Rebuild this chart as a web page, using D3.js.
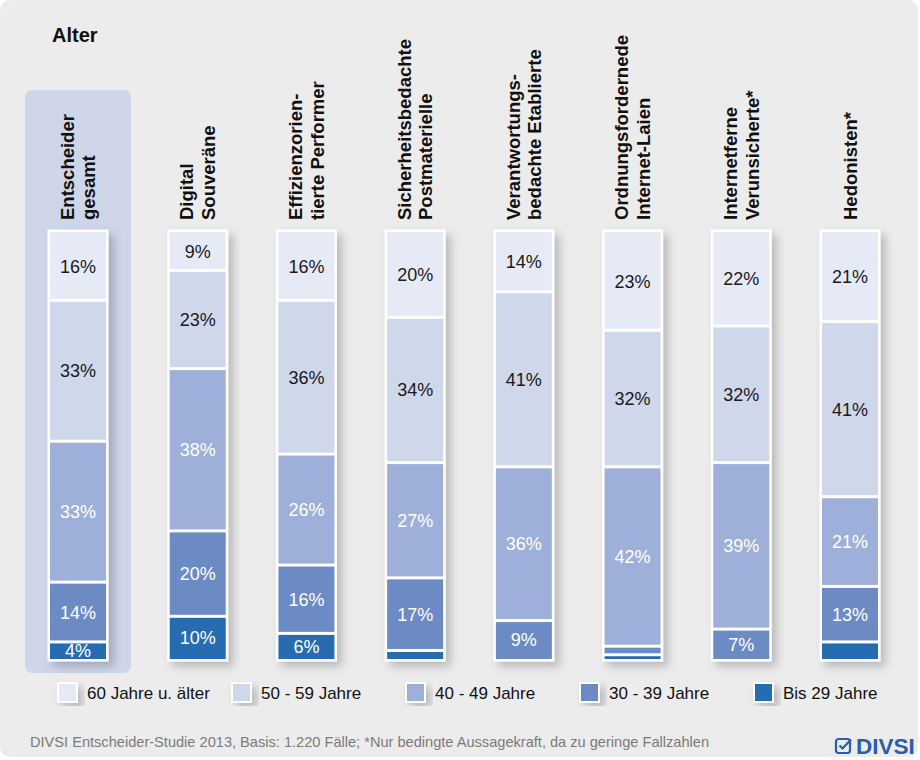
<!DOCTYPE html>
<html>
<head>
<meta charset="utf-8">
<script src="https://cdn.jsdelivr.net/npm/d3@7"></script>
<style>
  html, body { margin: 0; padding: 0; background: #fff; }
  svg { display: block; font-family: "Liberation Sans", Arial, sans-serif; }
</style>
</head>
<body>
<svg id="chart" width="920" height="760"></svg>
<script>
// Kategorien (Zeilenumbruch mit "|")
const categories = [
    "Entscheider|gesamt",
    "Digital|Souveräne",
    "Effizienzorien-|tierte Performer",
    "Sicherheitsbedachte|Postmaterielle",
    "Verantwortungs-|bedachte Etablierte",
    "Ordnungsfordernede|Internet-Laien",
    "Internetferne|Verunsicherte*",
    "Hedonisten*"
];

// Altersgruppen, von oben nach unten gestapelt
const ageGroups = ["60 Jahre u. älter", "50 - 59 Jahre", "40 - 49 Jahre", "30 - 39 Jahre", "Bis 29 Jahre"];

const age60plus = [16, 9, 16, 20, 14, 23, 22, 21];
const age50to59 = [33, 23, 36, 34, 41, 32, 32, 41];
const age40to49 = [33, 38, 26, 27, 36, 42, 39, 21];
const age30to39 = [14, 20, 16, 17, 9, 2, 7, 13];
const ageTo29 = [4, 10, 6, 2, 0, 1, 0, 4];

// Segmente ohne Beschriftung
const hiddenLabels = [["Hedonisten*", "Bis 29 Jahre"]];

const colors = ["#e6eaf6", "#cfd7eb", "#9eafd9", "#6c8bc4", "#276cb0"];
const labelColors = ["#1a1a1a", "#1a1a1a", "#ffffff", "#ffffff", "#ffffff"];

const title = "Alter";
const footnote = "DIVSI Entscheider-Studie 2013, Basis: 1.220 Fälle; *Nur bedingte Aussagekraft, da zu geringe Fallzahlen";

const series = [age60plus, age50to59, age40to49, age30to39, ageTo29];

// Tabelle für d3.stack
const table = categories.map((c, i) => {
    const row = {category: c};
    ageGroups.forEach((g, k) => row[g] = series[k][i]);
    return row;
});

const svg = d3.select("#chart");
const barWidth = 56;
const firstGap = 11;   // Gesamtspalte etwas abgesetzt

// Skalen
const x = d3.scalePoint().domain(categories).range([89, 850]);
const cx = c => x(c) - (c === categories[0] ? firstGap : 0);
const y = d3.scaleLinear().domain([0, 100]).range([232, 659]);
const color = d3.scaleOrdinal().domain(ageGroups).range(colors);
const textColor = d3.scaleOrdinal().domain(ageGroups).range(labelColors);

// Schatten
const defs = svg.append("defs");
const shadow = defs.append("filter").attr("id", "shadow")
    .attr("x", "-30%").attr("y", "-10%").attr("width", "170%").attr("height", "130%");
shadow.append("feDropShadow")
    .attr("dx", 5).attr("dy", 5).attr("stdDeviation", 5)
    .attr("flood-color", "#000").attr("flood-opacity", 0.22);

// Hintergrund
svg.append("rect")
    .attr("x", 0).attr("y", 0).attr("width", 918).attr("height", 757)
    .attr("rx", 10).attr("fill", "#ececec");

// Hervorhebung der Gesamtspalte
svg.append("rect")
    .attr("x", cx(categories[0]) - 53).attr("y", 90)
    .attr("width", 106).attr("height", 583)
    .attr("rx", 7).attr("fill", "#cfd6ea");

svg.append("text")
    .attr("x", 52).attr("y", 42)
    .attr("font-size", 20).attr("font-weight", "bold").attr("fill", "#111")
    .text(title);

// Spaltenüberschriften, um 90° gedreht
const heads = svg.append("g").selectAll("text").data(categories).join("text")
    .attr("transform", d => `translate(${cx(d)},220) rotate(-90)`)
    .attr("font-size", 18.5).attr("font-weight", "bold").attr("fill", "#111");
heads.each(function (d) {
    const lines = d.split("|");
    d3.select(this).selectAll("tspan").data(lines).join("tspan")
        .attr("x", 0)
        .attr("y", (l, i) => 6.5 + (i - (lines.length - 1) / 2) * 21.5)
        .text(l => l);
});

// Gestapelte Balken
const stacked = d3.stack().keys(ageGroups)(table);

const barsG = svg.append("g");
const columns = barsG.selectAll("g.col").data(categories).join("g").attr("class", "col");

columns.append("rect")
    .attr("x", d => cx(d) - barWidth / 2 - 2.5)
    .attr("y", y(0) - 2.5)
    .attr("width", barWidth + 5)
    .attr("height", y(100) - y(0) + 5)
    .attr("fill", "#fff")
    .attr("filter", "url(#shadow)");

categories.forEach((c, i) => {
    defs.append("clipPath").attr("id", "clip" + i)
        .append("rect")
        .attr("x", cx(c) - barWidth / 2).attr("y", y(0))
        .attr("width", barWidth).attr("height", y(100) - y(0));
});

const segs = [];
stacked.forEach(layer => {
    layer.forEach((s, i) => {
        if (s[1] - s[0] > 0) segs.push({key: layer.key, category: categories[i], idx: i, y0: s[0], y1: s[1]});
    });
});

barsG.append("g").selectAll("rect").data(segs).join("rect")
    .attr("x", d => cx(d.category) - barWidth / 2)
    .attr("y", d => y(d.y0) + (d.y0 > 0 ? 1.5 : 0))
    .attr("width", barWidth)
    .attr("height", d => Math.max(0.8, y(d.y1) - y(d.y0) - (d.y0 > 0 ? 1.5 : 0) - (d.y1 < 100 ? 1.5 : 0)))
    .attr("fill", d => color(d.key));

const isHidden = d => d.y1 - d.y0 < 4 || hiddenLabels.some(h => h[0] === d.category && h[1] === d.key);

barsG.append("g").selectAll("text").data(segs.filter(d => !isHidden(d))).join("text")
    .attr("clip-path", d => `url(#clip${d.idx})`)
    .attr("x", d => cx(d.category))
    .attr("y", d => (y(d.y0) + y(d.y1)) / 2)
    .attr("dy", "0.36em")
    .attr("text-anchor", "middle")
    .attr("font-size", 18)
    .attr("fill", d => textColor(d.key))
    .text(d => Math.round(d.y1 - d.y0) + "%");

// Legende
const lx = d3.scalePoint().domain(ageGroups).range([58, 754]);
const legend = svg.append("g").selectAll("g").data(ageGroups).join("g")
    .attr("transform", d => `translate(${lx(d)},683)`);
legend.append("rect")
    .attr("width", 19).attr("height", 19)
    .attr("fill", d => color(d))
    .attr("stroke", "#fff").attr("stroke-width", 2)
    .attr("filter", "url(#shadow)");
legend.append("text")
    .attr("x", 29).attr("y", 16)
    .attr("font-size", 17).attr("fill", "#111")
    .text(d => d);

// Fußnote
svg.append("text")
    .attr("x", 30).attr("y", 747)
    .attr("font-size", 14.6).attr("fill", "#7a7a7a")
    .text(footnote);

// Logo
const logo = svg.append("g").attr("transform", "translate(835,738)");
logo.append("rect")
    .attr("x", 1).attr("y", 1).attr("width", 14).attr("height", 14).attr("rx", 2.5)
    .attr("fill", "none").attr("stroke", "#2a5ea8").attr("stroke-width", 2.2);
logo.append("path")
    .attr("d", "M4.5,7.5 L7.5,10.5 L16,1.5")
    .attr("fill", "none").attr("stroke", "#2a5ea8").attr("stroke-width", 2.2);
logo.append("text")
    .attr("x", 21).attr("y", 16)
    .attr("font-size", 22.5).attr("font-weight", "bold").attr("fill", "#2a5ea8")
    .text("DIVSI");
</script>
</body>
</html>
